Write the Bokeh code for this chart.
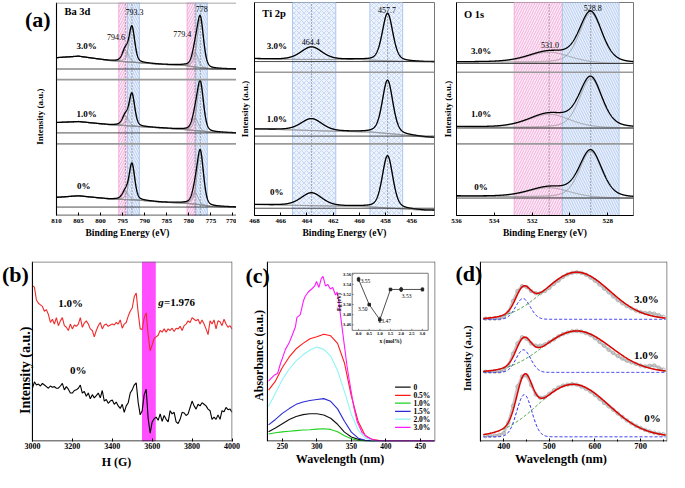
import numpy as np
from bokeh.plotting import figure
from bokeh.models import Range1d, Span, Label, FixedTicker
from bokeh.layouts import row, column
from bokeh.embed import file_html
from bokeh.resources import INLINE

FONT = "Liberation Serif"

# ======================= DATA =======================
# ---- (a) XPS: fitted peak parameters (position eV, height a.u., FWHM eV) and backgrounds
XPS_SAMPLES = ["3.0%", "1.0%", "0%"]

BA_CENTERS = [794.4, 792.9, 778.6, 777.4]
BA_FWHM = [1.6, 1.5, 1.6, 1.7]
BA_HEIGHTS = [[12, 36, 15, 50], [10, 33, 13, 49], [8, 37, 12, 54]]
BA_BG_X = [769, 775, 778, 781, 786, 792, 795, 798, 805, 810]
BA_BG_Y = [[151.3, 151.5, 153, 155, 156, 158, 159, 160, 164.5, 163],
           [85.3, 86, 87.5, 88.7, 90.3, 92, 93, 93.7, 97, 96],
           [8.7, 9.3, 11.5, 12.7, 13.7, 16, 16.5, 17, 20.3, 18.7]]
BA_PEAK_TEXT = ["794.6", "793.3", "779.4", "778"]
BA_TICKS = [810, 805, 800, 795, 790, 785, 780, 775, 770]

TI_CENTERS = [463.65, 457.85]
TI_FWHM = [1.9, 0.95]
TI_HEIGHTS = [[13, 49], [12.3, 55], [13.3, 54]]
TI_BG_X = [454, 455, 457, 459, 460, 462, 466, 468]
TI_BG_Y = [[158.7, 158.7, 159.3, 160.3, 161, 161, 161.3, 162],
           [80.3, 81, 83.7, 86, 86.3, 87, 88.7, 89.3],
           [5.3, 5.3, 7, 8.7, 9.3, 9.7, 10.7, 11.3]]
TI_PEAK_TEXT = ["464.4", "457.7"]
TI_TICKS = [468, 466, 464, 462, 460, 458, 456, 454]

O_CENTERS = [531.1, 528.9]
O_FWHM = [2.6, 1.42]
O_HEIGHTS = [[11, 52], [14, 51], [10, 48]]
O_BG_X = [526.6, 528, 530, 532, 534, 536]
O_BG_Y = [[157, 157, 157.5, 158, 158.3, 158.5],
          [90.3, 90.3, 90.5, 90.7, 91, 91.5],
          [18, 18, 18.5, 19, 19.5, 20]]
O_PEAK_TEXT = ["531.0", "528.8"]
O_TICKS = [536, 534, 532, 530, 528]

# ---- (b) EPR
EPR_H = list(range(3000, 4001, 10))
EPR_1 = [495, 490, 450, 440, 435, 430, 415, 420, 405, 380,
         390, 375, 395, 370, 385, 395, 370, 365, 355, 375,
         360, 372, 368, 375, 395, 365, 378, 385, 375, 360,
         355, 335, 355, 370, 380, 360, 372, 375, 368, 372,
         375, 372, 380, 375, 388, 362, 375, 380, 400, 415,
         425, 460, 472, 410, 360, 358, 395, 410, 340, 292,
         310, 330, 335, 340, 355, 350, 360, 350, 360, 355,
         362, 352, 362, 360, 368, 355, 370, 375, 385, 380,
         395, 390, 385, 390, 375, 388, 375, 360, 342, 385,
         375, 388, 360, 385, 382, 370, 390, 375, 365, 370,
         360]
EPR_0 = [175, 195, 185, 188, 182, 190, 185, 180, 175, 182,
         178, 180, 175, 175, 182, 190, 170, 180, 172, 160,
         160, 168, 170, 175, 185, 160, 165, 150, 160, 142,
         155, 145, 152, 160, 145, 168, 135, 140, 128, 135,
         138, 125, 132, 120, 112, 125, 100, 120, 130, 160,
         170, 185, 192, 130, 92, 105, 155, 172, 80, 35,
         70, 80, 85, 75, 95, 72, 90, 78, 70, 105,
         95, 100, 70, 65, 78, 100, 98, 90, 95, 115,
         135, 120, 110, 125, 120, 130, 125, 120, 110, 105,
         78, 85, 78, 92, 78, 105, 102, 115, 108, 110,
         100]
EPR_BAND = [3549, 3618]

# ---- (c) UV-vis absorbance
UV_X = [230, 240, 250, 260, 270, 280, 290, 300, 310, 320, 330, 340, 350,
        360, 370, 380, 390, 400, 420, 440, 470]
UV_0 = [30, 43, 57, 71, 81, 87, 90, 90, 86, 75, 55, 29, 13, 5, 1, 0, 0, 0, 0, 0, 0]
UV_05 = [168, 198, 243, 278, 305, 323, 338, 345, 353, 348, 323, 258, 148, 63, 18, 5, 1, 0, 0, 0, 0]
UV_10 = [23, 27, 30, 32, 34, 36, 37, 39, 40, 38, 30, 17, 7, 2, 0, 0, 0, 0, 0, 0, 0]
UV_15 = [53, 71, 91, 107, 121, 129, 134, 137, 140, 131, 106, 65, 29, 9, 2, 0, 0, 0, 0, 0, 0]
UV_20 = [115, 158, 203, 238, 265, 285, 301, 311, 303, 281, 233, 163, 88, 35, 10, 2, 0, 0, 0, 0, 0]
UV_30_X = [230, 234, 238.5, 243, 247.5, 250, 254.5, 259.5, 264, 269, 271, 276, 280.5, 283,
           287.5, 292.5, 297, 299.5, 303, 306.5, 309, 312.5, 316, 319.5, 323, 327, 329.5,
           332, 335, 339.5, 344, 349, 353.5, 358.5, 365.5, 372.5, 382, 394, 420, 470]
UV_30 = [198, 208, 218, 223, 258, 273, 303, 323, 348, 378, 408, 418, 463, 478,
         493, 503, 513, 528, 508, 538, 545, 513, 518, 503, 508, 483, 493,
         458, 403, 323, 243, 173, 113, 63, 28, 13, 3, 0, 0, 0]
UV_LABELS = ["0", "0.5%", "1.0%", "1.5%", "2.0%", "3.0%"]
UV_COLORS = ["#111111", "#ff1a1a", "#1fd11f", "#2b2bd6", "#8ff5f5", "#ff1aff"]

# inset: band gap vs x
INSET_X = [0.0, 0.5, 1.0, 1.5, 2.0, 3.0]
INSET_EG = [3.55, 3.50, 3.47, 3.53, 3.53, 3.53]
INSET_ERR = [0.004, 0.002, 0.005, 0.001, 0.004, 0.003]
INSET_XTICKS = [0.0, 0.5, 1.0, 1.5, 2.0, 2.5, 3.0]
INSET_YTICKS = [3.46, 3.48, 3.50, 3.52, 3.54, 3.56]

# ---- (d) PL: measured points (10 nm step) and two-Gaussian fits
PL_SAMPLES = ["0%", "1.0%", "3.0%"]
PL_X = list(range(360, 751, 10))
PL_BASE = [18, 223, 392]
PL_PTS = [
    [2, 3, 4, 6, 12, 45, 98, 160, 192, 195, 165, 135, 124, 126, 137, 148, 157, 163, 166, 168,
     166, 160, 153, 144, 133, 121, 108, 97, 86, 74, 63, 52, 43, 35, 28, 22, 17, 13, 10, 8],
    [2, 2, 2, 3, 7, 22, 59, 92, 112, 107, 92, 85, 85, 89, 97, 105, 115, 122, 127, 131,
     132, 130, 125, 119, 109, 97, 85, 72, 62, 52, 44, 37, 32, 27, 22, 19, 21, 22, 15, 9],
    [2, 2, 2, 3, 8, 23, 58, 90, 106, 103, 90, 83, 83, 90, 100, 113, 123, 135, 143, 148,
     150, 148, 142, 133, 123, 111, 98, 86, 73, 61, 51, 42, 35, 28, 23, 20, 20, 18, 13, 8]]
PL_BLUE = [[445, 134, 16.5], [443, 72, 16], [442, 66, 16]]     # centre, height, sigma (nm)
PL_GREEN = [[552, 167, 78], [560, 132, 75], [560, 150, 72]]

# ======================= HELPERS =======================


def pseudo_voigt(x, c, h, fwhm, eta=0.35):
    u = (x - c) / (fwhm / 2.0)
    return h * (eta / (1 + u ** 2) + (1 - eta) * np.exp(-np.log(2) * u ** 2))


def gauss(x, c, h, s):
    return h * np.exp(-(x - c) ** 2 / (2 * s ** 2))


class Frame:
    """Axis box [a,b] drawn at pixel columns [bl, w-br]; the plotting frame is
    widened to the left down to column bl_new so that panel letters fit inside."""

    def __init__(self, a, b, w, bl, br, bl_new):
        self.a, self.b, self.w, self.bl, self.br = a, b, w, bl, br
        self.k = (b - a) / (w - bl - br)
        self.start = a - (bl - bl_new) * self.k
        self.eps = 0.5 * self.k

    def x(self, px):
        return self.a + (px - self.bl) * self.k


def add_label(p, x, y, text, size, style="bold", align="center", baseline="middle",
              angle=0.0, xr=None, yr=None):
    kw = {}
    if xr:
        kw["x_range_name"] = xr
    if yr:
        kw["y_range_name"] = yr
    p.add_layout(Label(x=x, y=y, text=text, text_font=FONT, text_font_size=size,
                       text_font_style=style, text_align=align, text_baseline=baseline,
                       text_color="black", angle=angle, **kw))


def style_xaxis(p, tick_size, xlabel, xlabel_size, xstandoff, tick_standoff, ticks,
                show_line=True):
    p.grid.visible = False
    p.background_fill_color = "white"
    p.border_fill_color = "white"
    ax = p.xaxis[0]
    ax.axis_line_color = "black" if show_line else None
    ax.major_tick_line_color = "black"
    ax.major_tick_in = 3
    ax.major_tick_out = 0
    ax.minor_tick_line_color = None
    ax.major_label_text_font = FONT
    ax.major_label_text_font_style = "bold"
    ax.major_label_text_font_size = tick_size
    ax.major_label_text_color = "black"
    ax.axis_label = xlabel
    ax.axis_label_text_font = FONT
    ax.axis_label_text_font_style = "bold"
    ax.axis_label_text_font_size = xlabel_size
    ax.axis_label_text_color = "black"
    ax.axis_label_standoff = xstandoff
    ax.major_label_standoff = tick_standoff
    ax.ticker = FixedTicker(ticks=ticks)


def style_yaxis(p, label, size, standoff):
    ax = p.yaxis[0]
    ax.axis_line_color = "black"
    ax.ticker = FixedTicker(ticks=[])
    ax.major_tick_line_color = None
    ax.minor_tick_line_color = None
    ax.axis_label = label
    ax.axis_label_text_font = FONT
    ax.axis_label_text_font_style = "bold"
    ax.axis_label_text_font_size = size
    ax.axis_label_text_color = "black"
    ax.axis_label_standoff = standoff


def box_lines(p, x0, x1, y0, y1, ex, ey, left=True, top="#666666", right="#666666"):
    # axis box drawn with the data scales (left axis, bottom axis, top and right edges)
    p.segment(x0=[x0, x0], x1=[x1, x0 + ex if False else x0], y0=[y0 + ey, y0],
              y1=[y0 + ey, y1], line_color="black", line_width=1.1)
    if top:
        p.segment(x0=[x0], x1=[x1], y0=[y1 - ey], y1=[y1 - ey], line_color=top, line_width=1)
    if right:
        p.segment(x0=[x1 - ex], x1=[x1 - ex], y0=[y0], y1=[y1], line_color=right,
                  line_width=1)


PINK = dict(fill_color="#fdeaf6", hatch_pattern="/", hatch_color="#e77fc8",
            line_color="#f0a3d6")
BLUE = dict(fill_color="#eaf1fc", hatch_pattern="\\", hatch_color="#8caee6",
            line_color="#a6c3ef")
BLUEX = dict(fill_color="#edf3fd", hatch_pattern="x", hatch_color="#a9c4ee",
             line_color="#9dbcec")


def xps_content(p, x_lo, x_hi, centers, fwhm, heights, bg_x, bg_y, bands, dark, gray):
    for (l, r, st) in bands:
        p.quad(left=[l], right=[r], bottom=[0], top=[220], fill_alpha=1.0,
               hatch_scale=5, hatch_weight=0.6, hatch_alpha=0.9, line_width=0.8, **st)
    p.segment(x0=centers, x1=centers, y0=[0] * len(centers), y1=[220] * len(centers),
              line_color="#444444", line_width=0.8, line_dash="1 2")
    x = np.linspace(x_lo, x_hi, 900)
    for k in range(3):
        bg = np.interp(x, bg_x, bg_y[k])
        comps = [pseudo_voigt(x, c, h, w) for c, h, w in zip(centers, heights[k], fwhm)]
        p.line(x, bg, line_color="#8a8a8a", line_width=0.7)
        for cp in comps:
            p.line(x, bg + cp, line_color="#8a8a8a", line_width=0.7)
        p.line(x, bg + np.sum(comps, axis=0), line_color="black", line_width=1.3)
    xs0, xs1 = x_hi, x_lo
    for y in dark:
        p.segment(x0=[xs0], x1=[xs1], y0=[y], y1=[y], line_color="#222222", line_width=0.8)
    for y in gray:
        p.segment(x0=[xs0], x1=[xs1], y0=[y], y1=[y], line_color="#9a9a9a", line_width=1.6)


def xps_fig(width, bl, br, x_range):
    return figure(width=width, height=251, x_range=x_range, y_range=Range1d(0, 220),
                  output_backend="svg", toolbar_location=None,
                  min_border_left=bl, min_border_right=br, min_border_top=2,
                  min_border_bottom=36)


# ======================= (a) XPS =======================
# Ba 3d (frame widened to the left so that "(a)" and the axis title fit inside)
fba = Frame(810, 769.2, 236, 56, 0, 18)
p_ba = xps_fig(236, 18, 0, Range1d(fba.start, 769.2))
style_xaxis(p_ba, "7px", "Binding Energy (eV)", "9.5px", 2, 3, BA_TICKS, show_line=False)
p_ba.yaxis.visible = False
p_ba.outline_line_color = None
xps_content(p_ba, 769.2, 810, BA_CENTERS, BA_FWHM, BA_HEIGHTS, BA_BG_X, BA_BG_Y,
            [(795.9, 793.9, PINK), (793.9, 791.2, BLUE),
             (780.4, 778.4, PINK), (778.4, 775.8, BLUE)],
            [151.3, 85.3, 8.7], [140.3, 74])
p_ba.segment(x0=[810, 810], x1=[810, 769.2], y0=[0, 0.3], y1=[220, 0.3],
             line_color="black", line_width=1.1)
p_ba.segment(x0=[810], x1=[769.2], y0=[219.5], y1=[219.5], line_color="#8a8a8a",
             line_width=1.2)
add_label(p_ba, fba.x(24.5), 202, "(a)", "22px", align="left")
add_label(p_ba, fba.x(39), 102, "Intensity (a.u.)", "9px", angle=np.pi / 2)
add_label(p_ba, 808.2, 211, "Ba 3d", "10.5px", align="left")
for s, yy, xx in zip(XPS_SAMPLES, [175, 105, 30], [803.2, 803.2, 803.8]):
    add_label(p_ba, xx, yy, s, "9px")
for t, xx, yy in zip(BA_PEAK_TEXT, [796.5, 792.3, 781.5, 777.1], [184, 210, 187, 213]):
    add_label(p_ba, xx, yy, t, "8px", style="normal")

# Ti 2p
p_ti = xps_fig(203, 18, 5, Range1d(468, 454.27))
style_xaxis(p_ti, "7px", "Binding Energy (eV)", "9.5px", 2, 3, TI_TICKS)
style_yaxis(p_ti, "Intensity (a.u.)", "9px", 5)
p_ti.outline_line_color = "#777777"
xps_content(p_ti, 454.27, 468, TI_CENTERS, TI_FWHM, TI_HEIGHTS, TI_BG_X, TI_BG_Y,
            [(465.1, 461.8, BLUEX), (459.2, 456.7, BLUEX)], [159, 82, 7.5], [148, 74])
add_label(p_ti, 467.4, 209, "Ti 2p", "10.5px", align="left")
for s, yy in zip(XPS_SAMPLES, [175, 100, 24]):
    add_label(p_ti, 466.3, yy, s, "9px")
for t, xx, yy in zip(TI_PEAK_TEXT, [463.7, 457.9], [179, 212]):
    add_label(p_ti, xx, yy, t, "8px", style="normal")

# O 1s
p_o = xps_fig(230, 15, 36, Range1d(536, 526.64))
style_xaxis(p_o, "7px", "Binding Energy (eV)", "9.5px", 2, 3, O_TICKS)
style_yaxis(p_o, "Intensity (a.u.)", "9px", 4)
p_o.outline_line_color = "#777777"
xps_content(p_o, 526.64, 536, O_CENTERS, O_FWHM, O_HEIGHTS, O_BG_X, O_BG_Y,
            [(532.95, 530.4, PINK), (530.4, 527.4, BLUE)], [157, 90.3, 18], [148, 74])
add_label(p_o, 535.6, 208, "O 1s", "10.5px", align="left")
for s, yy in zip(XPS_SAMPLES, [170, 105, 29]):
    add_label(p_o, 534.7, yy, s, "9px")
for t, xx, yy in zip(O_PEAK_TEXT, [531.06, 528.8], [176, 214]):
    add_label(p_o, xx, yy, t, "8px", style="normal")

# ======================= (b) EPR =======================
fb = Frame(3000, 4000, 244, 32, 12, 0)
p_b = figure(width=244, height=220, x_range=Range1d(fb.start, 4000 + fb.eps),
             y_range=Range1d(9, 570), output_backend="svg", toolbar_location=None,
             min_border_left=0, min_border_right=12, min_border_top=10,
             min_border_bottom=29)
style_xaxis(p_b, "8px", "H (G)", "12px", 3, 1, [3000, 3200, 3400, 3600, 3800, 4000],
            show_line=False)
p_b.yaxis.visible = False
p_b.outline_line_color = None
p_b.quad(left=[EPR_BAND[0]], right=[EPR_BAND[1]], bottom=[9], top=[570],
         fill_color="#ff4dff", line_color=None)
p_b.line(EPR_H, EPR_1, line_color="#f02a2a", line_width=1.1)
p_b.line(EPR_H, EPR_0, line_color="black", line_width=1.1)
box_lines(p_b, 3000, 4000, 9, 570, 0, 1.5)
add_label(p_b, fb.x(1.5), 531, "(b)", "22px", align="left")
add_label(p_b, fb.x(25), 231, "Intensity (a.u.)", "14px", angle=np.pi / 2)
add_label(p_b, 3191, 441, "1.0%", "11px")
add_label(p_b, 3230, 231, "0%", "11px")
add_label(p_b, 3630, 444, "g", "11px", style="bold italic", align="left")
add_label(p_b, 3659, 444, "=1.976", "11px", align="left")

# ======================= (c) UV-vis =======================
C_X0, C_X1 = 228.4, 471.2
fc = Frame(C_X0, C_X1, 210, 23, 19, 0)
p_c = figure(width=210, height=220, x_range=Range1d(fc.start, C_X1 + fc.eps),
             y_range=Range1d(-2, 594), output_backend="svg", toolbar_location=None,
             min_border_left=0, min_border_right=19, min_border_top=3,
             min_border_bottom=25)
style_xaxis(p_c, "7.5px", "Wavelength (nm)", "12px", 0, 1, [250, 300, 350, 400, 450],
            show_line=False)
p_c.yaxis.visible = False
p_c.outline_line_color = None
uv_series = [(UV_X, UV_0), (UV_X, UV_05), (UV_X, UV_10), (UV_X, UV_15), (UV_X, UV_20),
             (UV_30_X, UV_30)]
for (xs, ys), col in zip(uv_series, UV_COLORS):
    p_c.line(xs, ys, line_color=col, line_width=1.1)
box_lines(p_c, C_X0, C_X1, -2, 594, 0, 1.5)
# legend (drawn at the reference legend position)
leg_rows = [178, 151, 125, 98, 72, 45]
p_c.segment(x0=[413.3] * 6, x1=[435.9] * 6, y0=leg_rows, y1=leg_rows,
            line_color=UV_COLORS, line_width=1.3)
for lab, yy in zip(UV_LABELS, leg_rows):
    add_label(p_c, 440, yy, lab, "7.5px", align="left")
add_label(p_c, fc.x(1), 549, "(c)", "22px", align="left")
add_label(p_c, fc.x(15), 283, "Absorbance (a.u.)", "12px", angle=np.pi / 2)

# inset: its own ranges mapped onto a box given in the main data coordinates
U0, U1, V0, V1 = -0.3, 3.27, 3.449, 3.562
BOX_NM = (351.2, 461.3)
BOX_AB = (366, 555)
xr_main = (fc.start, C_X1 + fc.eps)
ku = (U1 - U0) / (BOX_NM[1] - BOX_NM[0])
kv = (V1 - V0) / (BOX_AB[1] - BOX_AB[0])
p_c.extra_x_ranges = {"ix": Range1d(U0 + (xr_main[0] - BOX_NM[0]) * ku,
                                     U0 + (xr_main[1] - BOX_NM[0]) * ku)}
p_c.extra_y_ranges = {"iy": Range1d(V0 + (-2 - BOX_AB[0]) * kv, V0 + (594 - BOX_AB[0]) * kv)}
IR = dict(x_range_name="ix", y_range_name="iy")
p_c.quad(left=[U0], right=[U1], bottom=[V0], top=[V1], fill_color="white",
         line_color="#555555", line_width=0.8, **IR)
p_c.segment(x0=INSET_XTICKS, x1=INSET_XTICKS, y0=[V0] * 7, y1=[V0 + 0.003] * 7,
            line_color="#444444", line_width=0.6, **IR)
p_c.segment(x0=[U0] * 6, x1=[U0 + 0.07] * 6, y0=INSET_YTICKS, y1=INSET_YTICKS,
            line_color="#444444", line_width=0.6, **IR)
for t in INSET_XTICKS:
    add_label(p_c, t, V0 - 0.003, "%.1f" % t, "4.5px", baseline="top", xr="ix", yr="iy")
for t in INSET_YTICKS:
    add_label(p_c, U0 - 0.06, t, "%.2f" % t, "4.5px", align="right", xr="ix", yr="iy")
add_label(p_c, 1.5, V0 - 0.015, "x (mol%)", "5.5px", baseline="top", xr="ix", yr="iy")
add_label(p_c, U0 - 0.62, 3.505, "Eg (eV)", "5.5px", angle=np.pi / 2, xr="ix", yr="iy")
ix = np.array(INSET_X)
ie = np.array(INSET_EG)
ierr = np.array(INSET_ERR)
p_c.line(INSET_X, INSET_EG, line_color="#222222", line_width=0.8, **IR)
p_c.segment(x0=ix, x1=ix, y0=ie - ierr, y1=ie + ierr, line_color="#222222",
            line_width=0.7, **IR)
p_c.segment(x0=ix - 0.05, x1=ix + 0.05, y0=ie + ierr, y1=ie + ierr,
            line_color="#222222", line_width=0.7, **IR)
p_c.segment(x0=ix - 0.05, x1=ix + 0.05, y0=ie - ierr, y1=ie - ierr,
            line_color="#222222", line_width=0.7, **IR)
p_c.scatter(INSET_X, INSET_EG, marker="square", size=2.5, fill_color="#222222",
            line_color="#222222", **IR)
for t, xx, yy, al in zip(["3.55", "3.50", "3.47", "3.53"], [0.1, 0.42, 1.07, 2.03],
                         [3.546, 3.492, 3.467, 3.518], ["left", "right", "left", "left"]):
    add_label(p_c, xx, yy, t, "5.5px", style="normal", align=al, xr="ix", yr="iy")

# ======================= (d) PL =======================
D_X0, D_X1 = 348.8, 758
fd = Frame(D_X0, D_X1, 215, 26, 2, 0)
p_d = figure(width=215, height=220, x_range=Range1d(fd.start, D_X1 + fd.eps),
             y_range=Range1d(3, 576), output_backend="svg", toolbar_location=None,
             min_border_left=0, min_border_right=2, min_border_top=8,
             min_border_bottom=27)
style_xaxis(p_d, "8.5px", "Wavelength (nm)", "12.5px", 0, 1, [400, 500, 600, 700],
            show_line=False)
p_d.xaxis.ticker = FixedTicker(ticks=[400, 500, 600, 700],
                               minor_ticks=[350, 450, 550, 650, 750])
p_d.xaxis.minor_tick_line_color = "black"
p_d.xaxis.minor_tick_in = 2
p_d.xaxis.minor_tick_out = 0
p_d.yaxis.visible = False
p_d.outline_line_color = None
xf = np.linspace(355, 755, 401)
for k in range(3):
    b = PL_BASE[k]
    pts = np.array(PL_PTS[k]) + b
    blue = gauss(xf, *PL_BLUE[k])
    green = gauss(xf, *PL_GREEN[k])
    p_d.line(PL_X, pts, line_color="#c4c4c4", line_width=2.5)
    p_d.scatter(PL_X, pts, marker="circle", size=3.5, fill_color=None,
                line_color="#a0a0a0", line_width=0.7)
    p_d.line(xf, b + blue, line_color="#2020ee", line_width=1, line_dash="3 2")
    p_d.line(xf, b + green, line_color="#2f922f", line_width=1, line_dash="3 2")
    p_d.line(xf, b + blue + green, line_color="#e00000", line_width=1.5)
box_lines(p_d, D_X0, D_X1, 3, 576, 0, 1.5)
add_label(p_d, fd.x(1), 537, "(d)", "22px", align="left")
add_label(p_d, fd.x(13.5), 268, "Intensity (a.u.)", "10.5px", angle=np.pi / 2)
add_label(p_d, 713, 456, "3.0%", "11px")
add_label(p_d, 713, 279, "1.0%", "11px")
add_label(p_d, 726, 78, "0%", "11px")

layout = column(row(p_ba, p_ti, p_o), row(p_b, p_c, p_d))
open("out.html", "w").write(file_html(layout, INLINE, title="chart"))
